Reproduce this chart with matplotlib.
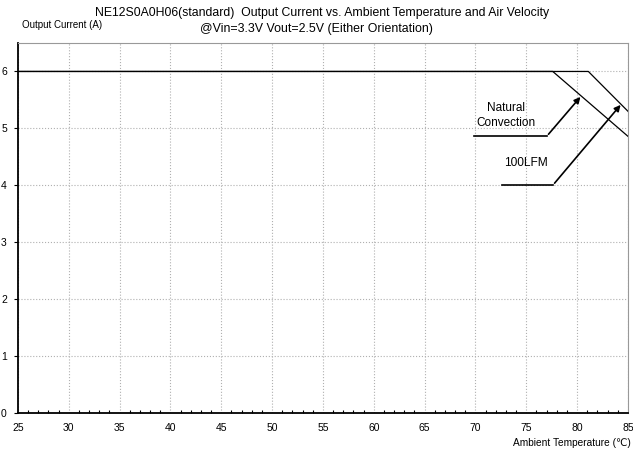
import matplotlib
matplotlib.use('Agg')
import matplotlib.pyplot as plt
import numpy as np

plt.rcParams['font.family'] = ['Liberation Sans', 'DejaVu Sans']

# derating curves (temperature in C, current in A)
nc_temp = [25, 77.6, 85]
nc_curr = [6, 6, 4.86]
lfm_temp = [25, 81.1, 85]
lfm_curr = [6, 6, 5.3]

x_ticks = [25, 30, 35, 40, 45, 50, 55, 60, 65, 70, 75, 80, 85]
y_ticks = [0, 1, 2, 3, 4, 5, 6]

fig = plt.figure(figsize=(6.33, 4.55), dpi=100)
ax = fig.add_axes([0.0284, 0.0923, 0.9637, 0.8132])

ax.plot(nc_temp, nc_curr, color='black', lw=0.9)
ax.plot(lfm_temp, lfm_curr, color='black', lw=0.9)

ax.set_xlim(25, 85)
ax.set_ylim(0, 6.5)
ax.set_xticks(x_ticks)
ax.set_xticks(np.arange(25, 86, 1), minor=True)
ax.set_yticks(y_ticks)
ax.tick_params(axis='x', which='both', direction='in', labelsize=7.5, pad=7)
ax.tick_params(axis='x', which='major', length=0)
ax.tick_params(axis='x', which='minor', length=2.5, width=0.8)
ax.tick_params(axis='y', which='major', direction='out', length=3, width=0.8,
               labelsize=7.5, pad=5)
ax.grid(True, color='#b0b0b0', ls=':', lw=0.8)

for s in ['top', 'right']:
    ax.spines[s].set_color('#999999')
    ax.spines[s].set_linewidth(0.8)
for s in ['left', 'bottom']:
    ax.spines[s].set_color('black')
    ax.spines[s].set_linewidth(1.3)

# annotations
ax.plot([69.9, 77.0], [4.86, 4.86], color='black', lw=1.2)
ax.annotate('', xy=(80.5, 5.59), xytext=(77.0, 4.86),
            arrowprops=dict(arrowstyle='-|>', color='black', lw=1.2, mutation_scale=9))
ax.text(73.0, 5.23, 'Natural\nConvection', ha='center', va='center',
        fontsize=8.5, linespacing=1.35)

ax.plot([72.6, 77.6], [4.0, 4.0], color='black', lw=1.2)
ax.annotate('', xy=(84.45, 5.45), xytext=(77.6, 4.0),
            arrowprops=dict(arrowstyle='-|>', color='black', lw=1.2, mutation_scale=9))
ax.text(75.0, 4.39, '100LFM', ha='center', va='center', fontsize=8.6)

fig.text(322 / 633, 1 - 13 / 455, 'NE12S0A0H06(standard)  Output Current vs. Ambient Temperature and Air Velocity',
         ha='center', va='center', fontsize=8.8)
fig.text(316 / 633, 1 - 29 / 455, '@Vin=3.3V Vout=2.5V (Either Orientation)',
         ha='center', va='center', fontsize=8.9)
fig.text(22 / 633, 1 - 25 / 455, 'Output Current (A)', ha='left', va='center', fontsize=7.0)
fig.text(631 / 633, 1 - 443 / 455, 'Ambient Temperature (\u2103)', ha='right', va='center', fontsize=7.3)

fig.savefig('out.png', dpi=100)
